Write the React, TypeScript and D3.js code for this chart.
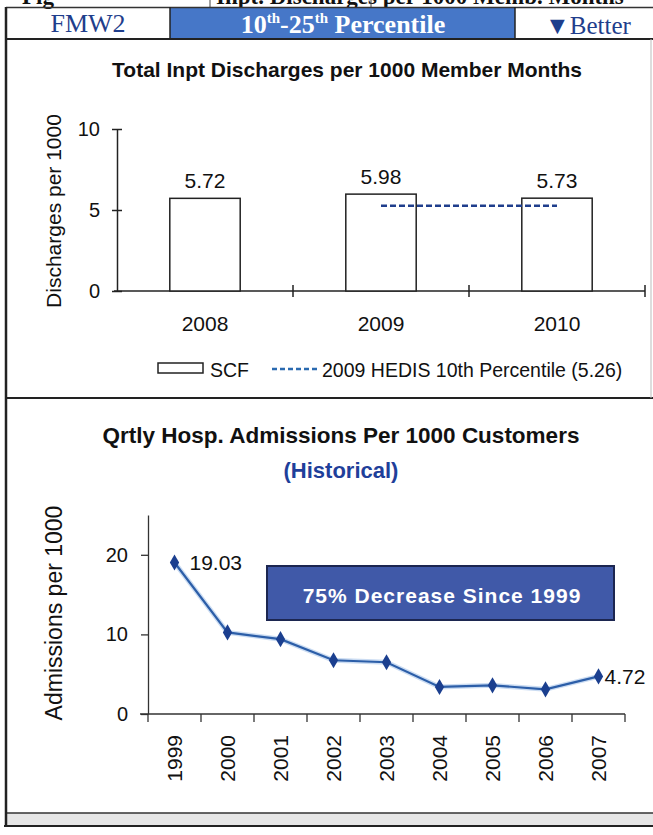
import * as d3 from 'd3';
import { useEffect, useRef } from 'react';

// upper panel: discharges per 1000 member months
const barYears = ['2008', '2009', '2010'];
const barValues = [5.72, 5.98, 5.73];
const barTicks = [0, 5, 10];
const hedisYears = ['2009', '2010'];
const hedisValue = 5.26;

// lower panel: quarterly admissions per 1000 customers
const lineYears = ['1999', '2000', '2001', '2002', '2003', '2004', '2005', '2006', '2007'];
const lineValues = [19.03, 10.25, 9.4, 6.75, 6.5, 3.4, 3.6, 3.1, 4.72];
const lineTicks = [0, 10, 20];
const labeledYears = ['1999', '2007'];

const W = 653;
const H = 835;
const SANS = '"Liberation Sans", Arial, sans-serif';
const SERIF = '"Liberation Serif", "Times New Roman", serif';
const NAVY = '#1f3e8c';

export default function App() {
    const svgRef = useRef<SVGSVGElement>(null);

    useEffect(() => {
        if (svgRef.current) drawChart(svgRef.current);
    }, []);

    return (
        <svg ref={svgRef} width={W} height={H}
            style={{ position: 'absolute', left: 0, top: 0, background: '#fff' }} />
    );
}

function drawChart(node: SVGSVGElement) {
    const svg = d3.select(node);
    svg.selectAll('*').remove();

    const txt = (x: number, y: number, s: string, size: number, opts: any = {}) =>
        svg.append('text')
            .attr('x', x).attr('y', y)
            .attr('font-family', opts.family || SANS)
            .attr('font-size', size)
            .attr('font-weight', opts.weight || 'normal')
            .attr('fill', opts.fill || '#111')
            .attr('text-anchor', opts.anchor || 'start')
            .text(s);

    // cut-off heading strip at the very top (only the foot of the letters shows)
    txt(216, 4, 'Inpt. Discharges per 1000 Memb. Months', 23, { family: SERIF, weight: 'bold' });
    txt(22, 4, 'Fig', 23, { family: SERIF, weight: 'bold' });
    svg.append('line').attr('x1', 210).attr('x2', 210).attr('y1', 0).attr('y2', 7).attr('stroke', '#444');
    svg.append('line').attr('x1', 371).attr('x2', 371).attr('y1', 0).attr('y2', 7).attr('stroke', '#444');

    // header row
    svg.append('rect').attr('x', 170).attr('y', 8).attr('width', 345).attr('height', 31).attr('fill', '#4677c8');
    svg.append('line').attr('x1', 6).attr('x2', W).attr('y1', 7.5).attr('y2', 7.5).attr('stroke', '#333').attr('stroke-width', 1.5);
    svg.append('line').attr('x1', 6).attr('x2', W).attr('y1', 39).attr('y2', 39).attr('stroke', '#222').attr('stroke-width', 2);
    [170, 515].forEach(x => svg.append('line').attr('x1', x).attr('x2', x).attr('y1', 7).attr('y2', 39)
        .attr('stroke', '#222').attr('stroke-width', 1.5));
    txt(88, 32, 'FMW2', 26, { family: SERIF, fill: NAVY, anchor: 'middle' });
    const pct = txt(343, 33, '', 26, { family: SERIF, weight: 'bold', fill: '#fff', anchor: 'middle' });
    pct.append('tspan').text('10');
    pct.append('tspan').attr('dy', -10).attr('font-size', 15).text('th');
    pct.append('tspan').attr('dy', 10).text('-25');
    pct.append('tspan').attr('dy', -10).attr('font-size', 15).text('th');
    pct.append('tspan').attr('dy', 10).text(' Percentile');
    txt(588, 34, '\u25BCBetter', 25, { family: SERIF, fill: NAVY, anchor: 'middle' });

    // ---------- upper bar chart ----------
    txt(347, 77, 'Total Inpt Discharges per 1000 Member Months', 21, { weight: 'bold', anchor: 'middle' });

    const x = d3.scaleBand().domain(barYears).range([117, 645]).paddingInner(0.6).paddingOuter(0.3);
    const y = d3.scaleLinear().domain([0, 10]).range([291, 129]);
    const bw = x.bandwidth();

    const yAxis = svg.append('g').attr('transform', 'translate(117,0)')
        .call(d3.axisLeft(y).tickValues(barTicks).tickSize(5).tickSizeOuter(0).tickPadding(12));
    yAxis.select('.domain').attr('stroke', '#222').attr('stroke-width', 1.5);
    yAxis.selectAll('.tick line').attr('x1', 5).attr('stroke', '#222').attr('stroke-width', 1.5);
    yAxis.selectAll('.tick text').attr('font-family', SANS).attr('font-size', 20).attr('fill', '#111');

    svg.append('line').attr('x1', 114).attr('x2', 645).attr('y1', y(0)).attr('y2', y(0))
        .attr('stroke', '#222').attr('stroke-width', 1.5);
    svg.selectAll('.xb').data(barYears).enter().append('line')
        .attr('x1', d => (x(d) as number) + bw + x.step() * 0.3)
        .attr('x2', d => (x(d) as number) + bw + x.step() * 0.3)
        .attr('y1', y(0) - 6).attr('y2', y(0) + 6)
        .attr('stroke', '#222').attr('stroke-width', 1.5);

    svg.selectAll('.bar').data(barValues).enter().append('rect')
        .attr('x', (d, i) => x(barYears[i]) as number)
        .attr('y', d => y(d))
        .attr('width', bw)
        .attr('height', d => y(0) - y(d))
        .attr('fill', '#fff').attr('stroke', '#222').attr('stroke-width', 1.5);

    barValues.forEach((v, i) => {
        txt((x(barYears[i]) as number) + bw / 2, y(v) - 10, v.toFixed(2), 21, { anchor: 'middle' });
        txt((x(barYears[i]) as number) + bw / 2, 331, barYears[i], 21, { anchor: 'middle' });
    });

    svg.append('line')
        .attr('x1', (x(hedisYears[0]) as number) + bw / 2)
        .attr('x2', (x(hedisYears[1]) as number) + bw / 2)
        .attr('y1', y(hedisValue)).attr('y2', y(hedisValue))
        .attr('stroke', NAVY).attr('stroke-width', 2.5).attr('stroke-dasharray', '6,3');

    txt(0, 0, 'Discharges per 1000', 21, { anchor: 'middle' })
        .attr('transform', 'translate(61,211) rotate(-90)');

    // legend
    svg.append('rect').attr('x', 158).attr('y', 363).attr('width', 45).attr('height', 10)
        .attr('fill', '#fff').attr('stroke', '#222').attr('stroke-width', 1.5);
    txt(210, 377, 'SCF', 19.5);
    svg.append('line').attr('x1', 272).attr('x2', 318).attr('y1', 369).attr('y2', 369)
        .attr('stroke', '#2a6ab0').attr('stroke-width', 2.5).attr('stroke-dasharray', '5,3');
    txt(322, 377, '2009 HEDIS 10th Percentile (5.26)', 19.5);

    // panel separator and frame
    svg.append('line').attr('x1', 6).attr('x2', W).attr('y1', 398).attr('y2', 398).attr('stroke', '#222').attr('stroke-width', 2);
    svg.append('line').attr('x1', 651).attr('x2', 651).attr('y1', 39).attr('y2', 398).attr('stroke', '#bbb').attr('stroke-width', 1);
    svg.append('rect').attr('x', 6).attr('y', 813).attr('width', W - 6).attr('height', 13).attr('fill', '#e6e6e6');
    svg.append('line').attr('x1', 6).attr('x2', W).attr('y1', 813).attr('y2', 813).attr('stroke', '#333').attr('stroke-width', 1.5);
    svg.append('line').attr('x1', 4).attr('x2', W).attr('y1', 826).attr('y2', 826).attr('stroke', '#222').attr('stroke-width', 2);
    svg.append('line').attr('x1', 6).attr('x2', 6).attr('y1', 7).attr('y2', 827).attr('stroke', '#222').attr('stroke-width', 2.5);

    // ---------- lower line chart ----------
    txt(341, 443, 'Qrtly Hosp. Admissions Per 1000 Customers', 22.5, { weight: 'bold', anchor: 'middle' });
    txt(341, 478, '(Historical)', 22, { weight: 'bold', anchor: 'middle', fill: '#1f3f9a' });

    const x2 = d3.scaleBand().domain(lineYears).range([148, 625]);
    const y2 = d3.scaleLinear().domain([0, 25]).range([714, 515]);
    const bw2 = x2.bandwidth();
    const cx = (d: string) => (x2(d) as number) + bw2 / 2;

    const yAxis2 = svg.append('g').attr('transform', 'translate(148,0)')
        .call(d3.axisLeft(y2).tickValues(lineTicks).tickSize(7).tickSizeOuter(0).tickPadding(13));
    yAxis2.select('.domain').attr('stroke', '#333').attr('stroke-width', 1.3);
    yAxis2.selectAll('.tick line').attr('stroke', '#333').attr('stroke-width', 1.3);
    yAxis2.selectAll('.tick text').attr('font-family', SANS).attr('font-size', 20).attr('fill', '#111');

    svg.append('line').attr('x1', 140).attr('x2', 625).attr('y1', y2(0)).attr('y2', y2(0))
        .attr('stroke', '#333').attr('stroke-width', 1.3);
    svg.selectAll('.xt').data([...lineYears.map(d => x2(d) as number), 625]).enter().append('line')
        .attr('x1', d => d).attr('x2', d => d)
        .attr('y1', y2(0)).attr('y2', y2(0) + 8)
        .attr('stroke', '#333').attr('stroke-width', 1.3);

    lineYears.forEach(d => {
        txt(0, 0, d, 21, { anchor: 'end' })
            .attr('dominant-baseline', 'central')
            .attr('transform', `translate(${cx(d)},735) rotate(-90)`);
    });

    txt(0, 0, 'Admissions per 1000', 23, { anchor: 'middle' })
        .attr('transform', 'translate(62,613) rotate(-90)');

    // annotation box
    svg.append('rect').attr('x', 267).attr('y', 566).attr('width', 347).attr('height', 54)
        .attr('fill', '#4059a8').attr('stroke', '#1c2650').attr('stroke-width', 2);
    txt(442, 603, '75%  Decrease Since 1999', 21, { weight: 'bold', anchor: 'middle', fill: '#fff' })
        .attr('letter-spacing', 1);

    const line = d3.line<number>()
        .x((d, i) => cx(lineYears[i]))
        .y(d => y2(d));
    svg.append('path').datum(lineValues).attr('d', line)
        .attr('fill', 'none').attr('stroke', '#a9c4ea').attr('stroke-width', 5).attr('opacity', 0.6);
    svg.append('path').datum(lineValues).attr('d', line)
        .attr('fill', 'none').attr('stroke', '#2c5ea8').attr('stroke-width', 2.2);

    svg.selectAll('.pt').data(lineValues).enter().append('path')
        .attr('d', d3.symbol().type(d3.symbolDiamond).size(75))
        .attr('transform', (d, i) => `translate(${cx(lineYears[i])},${y2(d)})`)
        .attr('fill', '#1b3f8f');

    lineValues.forEach((v, i) => {
        const yr = lineYears[i];
        if (!labeledYears.includes(yr)) return;
        const dx = i === 0 ? 15 : 6;
        txt(cx(yr) + dx, y2(v), v.toFixed(2), 21).attr('dominant-baseline', 'central');
    });
}
